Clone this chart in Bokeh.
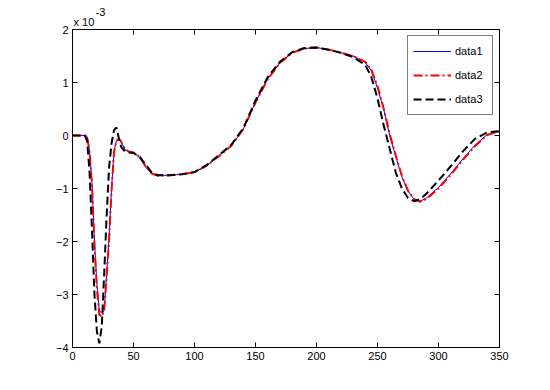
from bokeh.plotting import figure
from bokeh.models import Legend, LegendItem, LinearAxis, FixedTicker, Title, Range1d
from bokeh.embed import file_html
from bokeh.resources import INLINE

# values in units of 1e-3
x = [0, 5, 10, 12, 14, 16, 18, 20, 22, 24, 26, 28, 30, 32, 34, 36, 38, 40, 43, 46, 50, 55, 60, 65, 70,
     80, 90, 100, 110, 120, 130, 140, 150, 160, 170, 180, 190, 200, 210, 220, 230, 240, 245, 250, 255,
     260, 265, 270, 275, 280, 285, 290, 300, 310, 320, 330, 340, 350]
data1 = [0, 0, 0, -0.02, -0.3, -0.9, -2.0, -2.8, -3.3, -3.35, -3.3, -2.6, -1.9, -1.0, -0.3, -0.1, -0.05,
         -0.12, -0.27, -0.3, -0.32, -0.42, -0.6, -0.72, -0.75, -0.75, -0.73, -0.69, -0.57, -0.38, -0.2,
         0.12, 0.63, 1.07, 1.37, 1.56, 1.64, 1.66, 1.62, 1.56, 1.5, 1.38, 1.22, 0.9, 0.5, 0.0, -0.4,
         -0.78, -1.05, -1.2, -1.24, -1.18, -0.98, -0.72, -0.44, -0.18, 0.02, 0.08]
data2 = [0, 0, 0, -0.02, -0.32, -0.95, -2.05, -2.9, -3.38, -3.42, -3.3, -2.65, -1.95, -1.05, -0.32, -0.1,
         -0.06, -0.12, -0.26, -0.3, -0.32, -0.4, -0.58, -0.72, -0.76, -0.75, -0.73, -0.69, -0.57, -0.39,
         -0.2, 0.12, 0.62, 1.06, 1.37, 1.56, 1.64, 1.66, 1.62, 1.56, 1.5, 1.39, 1.24, 0.93, 0.52, 0.03,
         -0.38, -0.76, -1.04, -1.2, -1.25, -1.2, -1.0, -0.74, -0.46, -0.2, 0.01, 0.08]
data3 = [0, 0, 0, -0.1, -0.7, -1.8, -3.0, -3.7, -3.92, -3.6, -2.6, -1.5, -0.6, -0.15, 0.1, 0.15, -0.05,
         -0.22, -0.3, -0.32, -0.33, -0.4, -0.55, -0.7, -0.75, -0.75, -0.73, -0.69, -0.56, -0.37, -0.18,
         0.14, 0.66, 1.1, 1.39, 1.57, 1.65, 1.66, 1.62, 1.56, 1.48, 1.33, 1.1, 0.7, 0.2, -0.25, -0.7,
         -1.0, -1.18, -1.24, -1.2, -1.1, -0.85, -0.58, -0.3, -0.06, 0.06, 0.08]
x_ticks = [0, 50, 100, 150, 200, 250, 300, 350]
y_ticks = [-4, -3, -2, -1, 0, 1, 2]

FONT = "Liberation Sans"

p = figure(width=542, height=382, output_backend="svg", toolbar_location=None,
           x_range=Range1d(0, 350), y_range=Range1d(-4, 2),
           min_border_left=72, min_border_right=43, min_border_top=29, min_border_bottom=35)
p.background_fill_color = "white"
p.border_fill_color = "white"
p.outline_line_color = "black"
p.xgrid.visible = False
p.ygrid.visible = False

for ax, ticks in ((p.xaxis[0], x_ticks), (p.yaxis[0], y_ticks)):
    ax.ticker = FixedTicker(ticks=ticks)
    ax.major_tick_in = 5
    ax.major_tick_out = 0
    ax.minor_tick_line_color = None
    ax.major_label_text_font = FONT
    ax.major_label_text_font_size = "11px"
    ax.major_label_text_color = "black"
    ax.major_label_standoff = 4
    ax.axis_line_color = "black"
    ax.major_tick_line_color = "black"

for loc, ticks in (("right", y_ticks), ("above", x_ticks)):
    a = LinearAxis(ticker=FixedTicker(ticks=ticks), major_tick_in=5, major_tick_out=0,
                   minor_tick_line_color=None, major_label_text_font_size="0px",
                   major_label_standoff=0, major_label_text_color=None)
    p.add_layout(a, loc)

p.add_layout(Title(text="x 10", align="left", offset=1, standoff=3, text_font=FONT,
                   text_font_size="11px", text_font_style="normal", text_color="black"), "above")
p.add_layout(Title(text="-3", align="left", offset=23, standoff=-6, text_font=FONT,
                   text_font_size="11px", text_font_style="normal", text_color="black"), "above")

r1 = p.line(x, data1, line_color="#0000ff", line_width=1)
r2 = p.line(x, data2, line_color="#ff0000", line_width=2, line_dash="9 3 2 3")
r3 = p.line(x, data3, line_color="black", line_width=2, line_dash="8 4")

legend = Legend(items=[LegendItem(label="data1", renderers=[r1]),
                       LegendItem(label="data2", renderers=[r2]),
                       LegendItem(label="data3", renderers=[r3])],
                location="top_right", margin=6, padding=5, spacing=4,
                glyph_width=38, glyph_height=20, label_height=20, label_width=32,
                label_standoff=4,
                label_text_font=FONT, label_text_font_size="11px", label_text_color="black",
                border_line_color="black", border_line_width=1,
                background_fill_alpha=1.0)
p.add_layout(legend, "center")

open("out.html", "w").write(file_html(p, INLINE))
